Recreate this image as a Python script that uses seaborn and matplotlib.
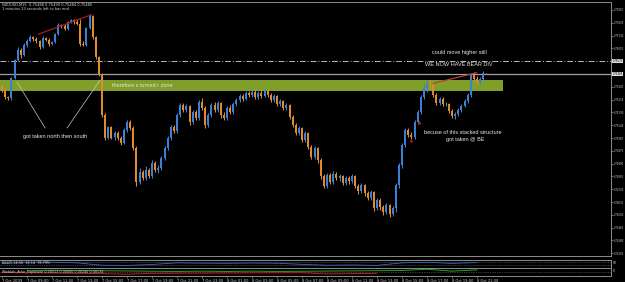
import numpy as np
import matplotlib
matplotlib.use("Agg")
import matplotlib.pyplot as plt
import matplotlib.transforms as mtransforms
import seaborn as sns

# ---------------- data (prices in points, 1 point = 0.00001) ----------------
opens_pts = [
    75405, 75379, 75332, 75326, 75458, 75578, 75644, 75611, 75678, 75704,
    75731, 75717, 75704, 75664, 75724, 75711, 75684, 75698, 75751, 75810,
    75804, 75784, 75830, 75844, 75830, 75817, 75684, 75678, 75790, 75870,
    75731, 75598, 75485, 75213, 75060, 75133, 75067, 75093, 75060, 75027,
    75113, 75166, 75126, 74994, 74768, 74834, 74794, 74848, 74808, 74894,
    74848, 74861, 74927, 74994, 75060, 75133, 75107, 75213, 75279, 75246,
    75273, 75166, 75233, 75193, 75299, 75259, 75146, 75213, 75279, 75246,
    75292, 75213, 75193, 75259, 75233, 75286, 75312, 75339, 75319, 75359,
    75346, 75366, 75332, 75359, 75339, 75372, 75346, 75312, 75339, 75286,
    75306, 75259, 75279, 75200, 75146, 75093, 75126, 75047, 75093, 75000,
    74934, 74994, 74914, 74808, 74741, 74814, 74768, 74821, 74794, 74808,
    74761, 74794, 74775, 74808, 74741, 74708, 74748, 74695, 74662, 74702,
    74595, 74648, 74602, 74569, 74615, 74555, 74595, 74748, 74881, 75014,
    75113, 75080, 75067, 75166, 75233, 75332, 75392, 75419, 75412, 75346,
    75292, 75319, 75286, 75286, 75239, 75206, 75219, 75246, 75273, 75306,
    75346, 75478, 75452, 75432, 75452, 75488]
closes_pts = [
    75379, 75332, 75326, 75458, 75578, 75644, 75611, 75678, 75704, 75731,
    75717, 75704, 75664, 75724, 75711, 75684, 75698, 75751, 75810, 75804,
    75784, 75830, 75844, 75830, 75817, 75684, 75678, 75790, 75870, 75731,
    75598, 75485, 75213, 75060, 75133, 75060, 75093, 75060, 75027, 75113,
    75166, 75126, 74994, 74768, 74834, 74794, 74848, 74808, 74894, 74848,
    74861, 74927, 74994, 75060, 75133, 75107, 75213, 75279, 75246, 75273,
    75166, 75233, 75193, 75299, 75259, 75146, 75213, 75279, 75246, 75292,
    75213, 75193, 75259, 75233, 75286, 75312, 75339, 75319, 75359, 75346,
    75366, 75332, 75359, 75339, 75372, 75346, 75312, 75339, 75286, 75306,
    75259, 75279, 75200, 75146, 75093, 75126, 75047, 75093, 75000, 74934,
    74994, 74914, 74808, 74741, 74814, 74768, 74821, 74794, 74808, 74761,
    74794, 74775, 74808, 74741, 74708, 74748, 74695, 74662, 74702, 74595,
    74648, 74602, 74569, 74615, 74555, 74595, 74748, 74881, 75014, 75113,
    75080, 75067, 75166, 75233, 75332, 75392, 75419, 75412, 75346, 75292,
    75319, 75286, 75286, 75239, 75206, 75219, 75246, 75273, 75306, 75346,
    75478, 75452, 75432, 75452, 75492, 75485]
highs_pts = [
    75412, 75385, 75339, 75465, 75585, 75664, 75658, 75691, 75717, 75744,
    75737, 75731, 75711, 75737, 75731, 75724, 75704, 75757, 75824, 75817,
    75817, 75837, 75850, 75850, 75850, 75850, 75704, 75797, 75883, 75877,
    75737, 75605, 75492, 75226, 75140, 75140, 75107, 75107, 75073, 75126,
    75180, 75180, 75140, 75007, 74861, 74848, 74874, 74861, 74914, 74907,
    74881, 74941, 75007, 75073, 75146, 75146, 75226, 75292, 75292, 75286,
    75279, 75246, 75246, 75312, 75326, 75273, 75226, 75292, 75299, 75306,
    75299, 75233, 75273, 75279, 75299, 75326, 75352, 75352, 75372, 75372,
    75379, 75379, 75372, 75379, 75385, 75385, 75359, 75352, 75346, 75319,
    75312, 75292, 75286, 75213, 75160, 75140, 75133, 75107, 75100, 75014,
    75007, 75000, 74927, 74821, 74828, 74828, 74841, 74834, 74821, 74814,
    74808, 74808, 74821, 74814, 74755, 74761, 74755, 74708, 74715, 74708,
    74662, 74662, 74615, 74628, 74622, 74609, 74761, 74894, 75027, 75126,
    75126, 75100, 75180, 75246, 75346, 75419, 75445, 75445, 75432, 75359,
    75332, 75332, 75299, 75292, 75253, 75233, 75259, 75286, 75319, 75359,
    75492, 75498, 75472, 75465, 75505, 75490]
lows_pts = [
    75366, 75319, 75312, 75312, 75452, 75571, 75592, 75605, 75664, 75698,
    75704, 75691, 75651, 75658, 75704, 75671, 75678, 75691, 75744, 75790,
    75777, 75777, 75824, 75817, 75810, 75671, 75671, 75671, 75784, 75717,
    75585, 75472, 75200, 75047, 75053, 75053, 75047, 75047, 75014, 75020,
    75100, 75113, 74980, 74741, 74755, 74781, 74781, 74794, 74794, 74834,
    74828, 74848, 74914, 74980, 75047, 75093, 75093, 75200, 75233, 75233,
    75146, 75153, 75180, 75180, 75246, 75126, 75133, 75200, 75233, 75233,
    75193, 75180, 75180, 75219, 75219, 75273, 75299, 75306, 75312, 75332,
    75332, 75319, 75319, 75326, 75332, 75332, 75299, 75299, 75273, 75273,
    75246, 75246, 75186, 75133, 75080, 75080, 75034, 75034, 74987, 74921,
    74921, 74894, 74788, 74728, 74728, 74755, 74755, 74781, 74775, 74748,
    74748, 74755, 74761, 74728, 74688, 74695, 74675, 74648, 74648, 74575,
    74582, 74582, 74549, 74555, 74536, 74542, 74569, 74728, 74861, 75000,
    75067, 75053, 75053, 75153, 75219, 75319, 75366, 75385, 75332, 75279,
    75279, 75273, 75273, 75226, 75193, 75186, 75206, 75233, 75266, 75292,
    75332, 75439, 75419, 75419, 75445, 75484]

xtick_labels = ["7 Oct 2009", "7 Oct 09:00", "7 Oct 11:00", "7 Oct 13:00", "7 Oct 15:00",
                "7 Oct 17:00", "7 Oct 19:00", "7 Oct 21:00", "7 Oct 23:00", "8 Oct 01:00",
                "8 Oct 03:00", "8 Oct 05:00", "8 Oct 07:00", "8 Oct 09:00", "8 Oct 11:00",
                "8 Oct 13:00", "8 Oct 15:00", "8 Oct 17:00", "8 Oct 19:00", "8 Oct 21:00"]
xtick_bars = [0, 8, 16, 24, 32, 40, 48, 56, 64, 72, 80, 88, 96, 104, 112, 120, 128, 136, 144, 152]
ytick_vals = [0.75910, 0.75825, 0.75740, 0.75655, 0.75570, 0.75485, 0.75400, 0.75315, 0.75230, 0.75145,
              0.75060, 0.74975, 0.74890, 0.74805, 0.74720, 0.74635, 0.74550, 0.74465, 0.74380, 0.74295]

hline_price = 0.75570      # dash-dot horizontal line
bid_price = 0.75485        # current bid line
zone_low, zone_high = 0.75375, 0.75445
zone_bars = [-2, 160.3]

div1_bars = [11.6, 28.7]
div1_prices = [0.75749, 0.75879]
div2_bars = [138.0, 151.9]
div2_prices = [0.75423, 0.75494]

arrow_bars = [131, 133.4]
arrow_prices = [0.75047, 0.75166]

note_lines_bars = [[13.8, 4.8], [20.8, 31.4]]
note_lines_prices = [[0.75126, 0.75432], [0.75126, 0.75445]]

osc_bars = [0, 8, 16, 24, 32, 40, 48, 56, 64, 72, 80, 88, 96, 104, 112, 120, 128, 136, 144, 152]
rsi_vals = [55, 68, 70, 62, 30, 28, 40, 62, 58, 56, 60, 57, 42, 30, 34, 28, 62, 70, 55, 66]
osc_vals = [-0.2, 0.3, 0.5, 0.4, -0.6, -0.8, -0.5, 0.1, 0.2, 0.1, 0.2, 0.1, -0.3, -0.7, -0.6, -0.5, 0.4, 0.8, 0.2, 0.6]

# ---------------- style ----------------
sns.set_theme(style="dark", rc={"axes.facecolor": "black", "figure.facecolor": "black"})
plt.rcParams["font.family"] = ["Liberation Sans", "DejaVu Sans"]

BLUE = "#3c80d4"
ORANGE = "#e08a30"
DOJI = "#30b030"
GRID = "#8c8c8c"
TXT = "#e6e6e6"
YFS = 1.85

W, H = 625, 282
fig = plt.figure(figsize=(W / 100, H / 100), dpi=100, facecolor="black")
axw = 611 / W
ax = fig.add_axes([0, 1 - 256 / H, axw, 254 / H])
ax2 = fig.add_axes([0, 1 - 267.5 / H, axw, 7.5 / H], sharex=ax)
ax3 = fig.add_axes([0, 1 - 275.5 / H, axw, 7.5 / H], sharex=ax)

o = np.array(opens_pts) / 1e5
c = np.array(closes_pts) / 1e5
hi = np.array(highs_pts) / 1e5
lo = np.array(lows_pts) / 1e5
x = np.arange(len(c))
cols = np.where(c > o, BLUE, np.where(c < o, ORANGE, DOJI))

# zone
ax.fill_between(zone_bars, zone_low, zone_high, color="#7f9f2a", lw=0, zorder=1)
# horizontal lines
ax.axhline(hline_price, color="#b8b8b8", lw=0.7, ls=(0, (6, 2, 1, 2)), zorder=2)
ax.axhline(bid_price, color="#a0a0a0", lw=0.9, zorder=2)

# candles
ax.vlines(x, lo, hi, colors=cols, lw=0.75, zorder=3)
ax.bar(x, np.abs(c - o), bottom=np.minimum(o, c), width=0.62, color=cols, linewidth=0, zorder=4)

# divergence lines
sns.lineplot(x=div1_bars, y=div1_prices, ax=ax, color="#a81c1c", lw=0.9, zorder=5)
sns.lineplot(x=div2_bars, y=div2_prices, ax=ax, color="#b8402a", lw=0.9, zorder=5)
# annotation pointer lines
for bx, by in zip(note_lines_bars, note_lines_prices):
    sns.lineplot(x=bx, y=by, ax=ax, color="#c8c8c8", lw=0.5, zorder=5)
# arrows
sns.scatterplot(x=arrow_bars, y=arrow_prices, ax=ax, marker="^", s=7, color="#c01818",
                linewidth=0, zorder=6)

# texts
tfs = 4.0
ax.text(35.2, 0.75410, "therefore s turned r zone", color=TXT, fontsize=tfs, va="center", ha="left", zorder=7)
ax.text(17.0, 0.75067, "got taken north then south", color=TXT, fontsize=tfs, va="center", ha="center", zorder=7)
ax.text(146.2, 0.75631, "could move higher still", color=TXT, fontsize=tfs, va="center", ha="center", zorder=7)
ax.text(146.2, 0.75545, "WE NOW HAVE BEAR DIV", color=TXT, fontsize=tfs, va="center", ha="center", zorder=7)
ax.text(147.4, 0.75100, "becuse of this stacked structure", color=TXT, fontsize=tfs, va="center", ha="center", zorder=7)
ax.text(148.2, 0.75053, "got taken @ BE", color=TXT, fontsize=tfs, va="center", ha="center", zorder=7)

# axes limits
ax.set_xlim(-0.64, 194.88)
ax.set_ylim(0.74277, 0.75963)
ax.grid(False)

# y ticks right
ax.yaxis.tick_right()
ax.set_yticks(ytick_vals)
ylabels = ["%.5f" % v for v in ytick_vals]
ylabels[4] = ""
ylabels[5] = ""
ax.set_yticklabels(ylabels)
ax.tick_params(axis="y", right=True, length=1.4, width=0.6, color=GRID, labelsize=YFS,
               labelcolor="#d0d0d0", pad=0.4)
ax.tick_params(axis="x", bottom=False, labelbottom=False)
trans = mtransforms.blended_transform_factory(ax.transAxes, ax.transData)
for pv in [hline_price, bid_price]:
    ax.text(1.0025, pv, "%.5f" % pv, transform=trans, fontsize=YFS, color="black", va="center",
            ha="left", family="DejaVu Sans", clip_on=False,
            bbox=dict(boxstyle="square,pad=0.1", fc="#dcdcdc", ec="none"))
for lab in ax.get_yticklabels():
    lab.set_family("DejaVu Sans")

# indicator panels
ax2.set_ylim(0, 100)
ax2.axhline(70, color="#707070", lw=0.5, ls=(0, (1, 1.5)))
ax2.axhline(30, color="#707070", lw=0.5, ls=(0, (1, 1.5)))
sns.lineplot(x=osc_bars, y=rsi_vals, ax=ax2, color="#3a6ad0", lw=0.6)
ax3.set_ylim(-1.2, 1.2)
ax3.axhline(0, color="#707070", lw=0.5, ls=(0, (1, 1.5)))
osc = np.array(osc_vals)
sns.lineplot(x=osc_bars, y=np.where(osc >= 0, osc, np.nan), ax=ax3, color="#2aa02a", lw=0.7)
sns.lineplot(x=osc_bars, y=np.where(osc <= 0, osc, np.nan), ax=ax3, color="#c02020", lw=0.7)

for a in (ax2, ax3):
    a.set_yticks([])
    a.grid(False)
    a.set_ylabel("")
    a.set_facecolor("black")
ax.set_ylabel("")
ax2.tick_params(axis="x", bottom=False, labelbottom=False)
ax3.set_xticks(xtick_bars)
ax3.set_xticklabels(xtick_labels, ha="left", family="DejaVu Sans")
ax3.tick_params(axis="x", bottom=True, length=1.5, width=0.5, color=GRID, labelsize=2.6,
                labelcolor="#d0d0d0", pad=0.8)
ax.set_xlim(-0.64, 194.88)

for a in (ax, ax2, ax3):
    a.spines["left"].set_visible(False)
    for s in ("top", "bottom", "right"):
        a.spines[s].set_color(GRID)
        a.spines[s].set_linewidth(0.7)
        a.spines[s].set_visible(True)

fig.text(2 / W, 1 - 4.5 / H, "NZDUSD,M15  0.75488 0.75490 0.75484 0.75485", fontsize=2.6,
         color="#d8d8d8", va="center", ha="left", family="DejaVu Sans")
fig.text(2 / W, 1 - 9.5 / H, "1 minutes 23 seconds left to bar end", fontsize=2.6,
         color="#d8d8d8", va="center", ha="left", family="DejaVu Sans")
fig.text(2 / W, 1 - 263.5 / H, "RSI(7) 56.56  14.14  78.79%", fontsize=2.4,
         color="#d8d8d8", va="center", ha="left", family="DejaVu Sans")
fig.text(2 / W, 1 - 271.5 / H, "Waddah_Attar_Explosion 0.00013 0.00000 0.00240 0.00133", fontsize=2.4,
         color="#d8d8d8", va="center", ha="left", family="DejaVu Sans")
fig.text(613 / W, 1 - 263.5 / H, "50", fontsize=2.4, color="#d8d8d8", va="center", ha="left")
fig.text(613 / W, 1 - 271.5 / H, "0", fontsize=2.4, color="#d8d8d8", va="center", ha="left")

fig.savefig("out.png", dpi=100, facecolor="black")
